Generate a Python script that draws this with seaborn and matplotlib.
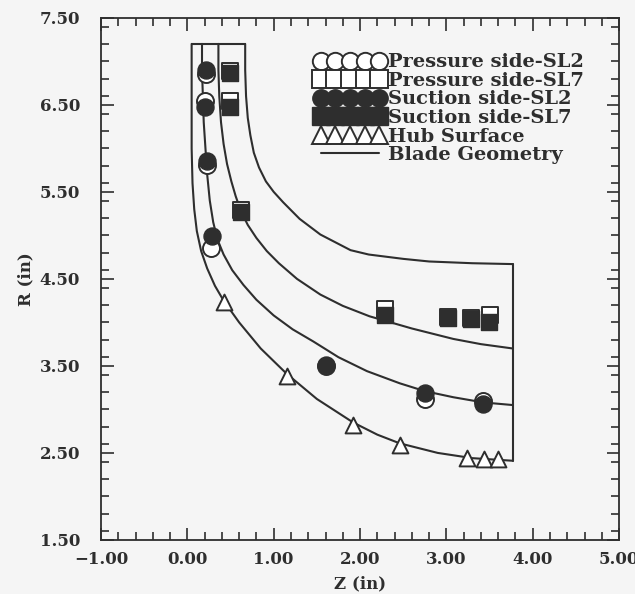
import matplotlib
matplotlib.use("Agg")
import matplotlib.pyplot as plt
from matplotlib.lines import Line2D
from matplotlib.ticker import MultipleLocator, FuncFormatter
import seaborn as sns
import pandas as pd

# ---------------- data ----------------
# Blade geometry curves (z, R) in inches
hub_z = [0.05, 0.05, 0.05, 0.06, 0.08, 0.11, 0.16, 0.23, 0.32, 0.42, 0.60, 0.85, 1.15, 1.50, 1.92, 2.20, 2.46, 2.90, 3.30, 3.77]
hub_R = [7.20, 6.50, 6.00, 5.60, 5.30, 5.05, 4.82, 4.62, 4.42, 4.25, 4.00, 3.70, 3.41, 3.12, 2.85, 2.71, 2.61, 2.50, 2.44, 2.41]

sl2_z = [0.17, 0.17, 0.18, 0.19, 0.21, 0.23, 0.26, 0.30, 0.35, 0.42, 0.52, 0.65, 0.80, 1.00, 1.22, 1.46, 1.75, 2.08, 2.46, 2.75, 3.08, 3.43, 3.77]
sl2_R = [7.20, 6.90, 6.60, 6.30, 6.00, 5.70, 5.40, 5.15, 4.95, 4.78, 4.60, 4.43, 4.26, 4.08, 3.92, 3.78, 3.60, 3.44, 3.30, 3.21, 3.14, 3.08, 3.05]

sl7_z = [0.36, 0.36, 0.37, 0.39, 0.42, 0.46, 0.51, 0.56, 0.62, 0.70, 0.80, 0.92, 1.06, 1.27, 1.54, 1.80, 2.11, 2.60, 3.08, 3.40, 3.77]
sl7_R = [7.20, 6.90, 6.60, 6.30, 6.05, 5.82, 5.62, 5.45, 5.28, 5.12, 4.97, 4.82, 4.68, 4.50, 4.32, 4.19, 4.07, 3.93, 3.81, 3.75, 3.70]

shr_z = [0.67, 0.67, 0.68, 0.70, 0.73, 0.77, 0.83, 0.91, 1.00, 1.11, 1.30, 1.54, 1.89, 2.10, 2.50, 2.80, 3.30, 3.77]
shr_R = [7.20, 6.90, 6.60, 6.35, 6.15, 5.95, 5.78, 5.62, 5.50, 5.38, 5.19, 5.01, 4.83, 4.78, 4.73, 4.70, 4.68, 4.67]

top_z = [0.05, 0.67]
top_R = [7.20, 7.20]
exit_z = [3.77, 3.77]
exit_R = [4.67, 2.41]

# Measured points
ps_sl2_z = [0.22, 0.21, 0.23, 0.27, 1.60, 2.75, 3.42]
ps_sl2_R = [6.86, 6.54, 5.81, 4.85, 3.50, 3.12, 3.10]

ps_sl7_z = [0.49, 0.49, 0.62, 2.29, 3.02, 3.29, 3.50]
ps_sl7_R = [6.89, 6.54, 5.29, 4.15, 4.06, 4.05, 4.08]

ss_sl2_z = [0.22, 0.21, 0.23, 0.28, 1.61, 2.75, 3.42]
ss_sl2_R = [6.90, 6.48, 5.86, 4.99, 3.51, 3.19, 3.06]

ss_sl7_z = [0.49, 0.49, 0.62, 2.29, 3.02, 3.29, 3.49]
ss_sl7_R = [6.87, 6.47, 5.27, 4.09, 4.05, 4.04, 4.01]

hub_pts_z = [0.42, 1.15, 1.92, 2.46, 3.24, 3.43, 3.60]
hub_pts_R = [4.24, 3.38, 2.82, 2.59, 2.44, 2.43, 2.43]

labels = ["Pressure side-SL2", "Pressure side-SL7", "Suction side-SL2",
          "Suction side-SL7", "Hub Surface", "Blade Geometry"]

x_ticks = [-1.0, 0.0, 1.0, 2.0, 3.0, 4.0, 5.0]
y_ticks = [1.5, 2.5, 3.5, 4.5, 5.5, 6.5, 7.5]

# ---------------- styling ----------------
sns.set_style("ticks")
bg = "#f5f5f5"
ink = "#2e2e2e"
plt.rcParams["font.family"] = ["DejaVu Serif"]
plt.rcParams["font.weight"] = "bold"

fig = plt.figure(figsize=(6.35, 5.94), dpi=100, facecolor=bg)
ax = fig.add_axes([0.159, 0.091, 0.816, 0.879])
ax.set_facecolor(bg)

# blade geometry
geo = pd.concat([
    pd.DataFrame({"z": z, "R": r, "c": name})
    for name, z, r in [("hub", hub_z, hub_R), ("sl2", sl2_z, sl2_R), ("sl7", sl7_z, sl7_R),
                       ("shr", shr_z, shr_R), ("top", top_z, top_R), ("exit", exit_z, exit_R)]
], ignore_index=True)
sns.lineplot(data=geo, x="z", y="R", units="c", estimator=None, sort=False,
             color=ink, lw=1.5, ax=ax, legend=False)

# open markers first, filled on top
sns.scatterplot(x=ps_sl2_z, y=ps_sl2_R, marker="o", s=150, facecolor="white",
                edgecolor=ink, linewidth=1.4, ax=ax, zorder=3)
sns.scatterplot(x=ps_sl7_z, y=ps_sl7_R, marker="s", s=140, facecolor="white",
                edgecolor=ink, linewidth=1.4, ax=ax, zorder=3)
sns.scatterplot(x=ss_sl2_z, y=ss_sl2_R, marker="o", s=150, facecolor=ink,
                edgecolor=ink, linewidth=1.0, ax=ax, zorder=4)
sns.scatterplot(x=ss_sl7_z, y=ss_sl7_R, marker="s", s=140, facecolor=ink,
                edgecolor=ink, linewidth=1.0, ax=ax, zorder=4)
sns.scatterplot(x=hub_pts_z, y=hub_pts_R, marker="^", s=130, facecolor="white",
                edgecolor=ink, linewidth=1.4, ax=ax, zorder=3)

fmt = FuncFormatter(lambda v, p: f"{v:.2f}".replace("-", "\u2212"))
ax.set_xlim(x_ticks[0], x_ticks[-1])
ax.set_ylim(y_ticks[0], y_ticks[-1])
ax.set_xticks(x_ticks)
ax.set_yticks(y_ticks)
ax.xaxis.set_major_formatter(fmt)
ax.yaxis.set_major_formatter(fmt)
ax.xaxis.set_minor_locator(MultipleLocator(0.2))
ax.yaxis.set_minor_locator(MultipleLocator(0.2))
ax.tick_params(which="both", direction="in", top=True, right=True, color=ink,
               labelsize=12, labelcolor=ink, width=1.2)
ax.tick_params(which="major", length=9)
ax.tick_params(which="minor", length=6)
ax.tick_params(axis="y", which="major", pad=15)
ax.tick_params(axis="x", which="major", pad=8)
for t in ax.get_xticklabels() + ax.get_yticklabels():
    t.set_fontweight("bold")
for sp in ax.spines.values():
    sp.set_color(ink)
    sp.set_linewidth(1.3)
ax.set_xlabel("Z (in)", fontsize=12, fontweight="bold", color=ink, labelpad=5)
ax.set_ylabel("R (in)", fontsize=12, fontweight="bold", color=ink, labelpad=4)

handles = [
    Line2D([], [], ls="none", marker="o", ms=12.5, mfc="white", mec=ink, mew=1.4),
    Line2D([], [], ls="none", marker="s", ms=12.5, mfc="white", mec=ink, mew=1.4),
    Line2D([], [], ls="none", marker="o", ms=12.5, mfc=ink, mec=ink, mew=1.0),
    Line2D([], [], ls="none", marker="s", ms=12.5, mfc=ink, mec=ink, mew=1.0),
    Line2D([], [], ls="none", marker="^", ms=12.5, mfc="white", mec=ink, mew=1.4),
    Line2D([], [], color=ink, lw=1.5),
]
leg = ax.legend(handles, labels, loc="upper left", bbox_to_anchor=(0.413, 0.932),
                frameon=False, numpoints=5, handlelength=3.6, handletextpad=0.15,
                labelspacing=0.03, borderaxespad=0.0, borderpad=0.0,
                prop={"family": "DejaVu Serif", "weight": "bold", "size": 14})
for t in leg.get_texts():
    t.set_color(ink)

fig.savefig("out.png", dpi=100, facecolor=bg)
